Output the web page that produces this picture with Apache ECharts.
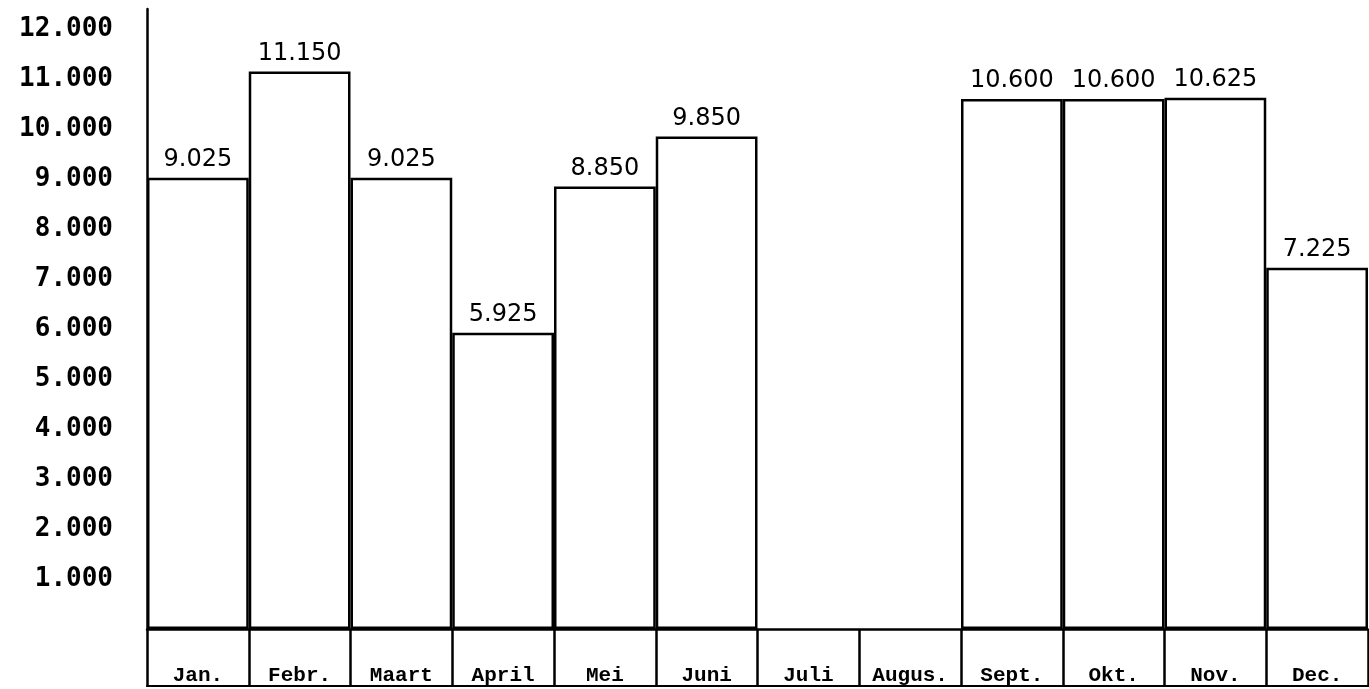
<!DOCTYPE html>
<html lang="nl">

<head>
    <meta charset="UTF-8">
    <title>Maandcijfers</title>
    <script src="https://cdn.jsdelivr.net/npm/echarts@6/dist/echarts.min.js"></script>
    <style>
        html, body {
            margin: 0;
            padding: 0;
            background-color: #fff;
        }

        #chart {
            width: 1369px;
            height: 689px;
        }
    </style>
</head>

<body>
    <div id="chart"></div>
    <script>
        // maanden en waarden zoals op de kaart
        var maanden = ['Jan.', 'Febr.', 'Maart', 'April', 'Mei', 'Juni', 'Juli', 'Augus.', 'Sept.', 'Okt.', 'Nov.', 'Dec.'];
        var waarden = [9025, 11150, 9025, 5925, 8850, 9850, null, null, 10600, 10600, 10625, 7225];
        var yTicks = [1000, 2000, 3000, 4000, 5000, 6000, 7000, 8000, 9000, 10000, 11000, 12000];

        // 9025 -> "9.025"
        function punt(v) {
            return (v / 1000).toFixed(3);
        }

        const chart = echarts.init(document.getElementById('chart'));

        chart.setOption({
            backgroundColor: '#fff',
            animation: false,
            grid: {
                left: 147,
                right: 1,
                top: 9,
                bottom: 60
            },
            xAxis: [
                {
                    type: 'category',
                    data: maanden,
                    axisLine: { lineStyle: { color: '#000', width: 2.5 } },
                    axisTick: {
                        show: true,
                        interval: 0,
                        length: 58,
                        lineStyle: { color: '#000', width: 2.5 }
                    },
                    axisLabel: {
                        interval: 0,
                        margin: 36,
                        color: '#000',
                        fontFamily: 'Liberation Mono',
                        fontWeight: 'bold',
                        fontSize: 21
                    }
                },
                {
                    // onderste lijn van de maandvakken
                    type: 'category',
                    data: maanden,
                    position: 'bottom',
                    offset: 57,
                    axisLine: { lineStyle: { color: '#000', width: 2 } },
                    axisTick: { show: false },
                    axisLabel: { show: false }
                }
            ],
            yAxis: {
                type: 'value',
                min: 0,
                max: 12400,
                interval: 1000,
                splitLine: { show: false },
                axisTick: { show: false },
                axisLine: { show: true, lineStyle: { color: '#000', width: 2.5 } },
                axisLabel: {
                    showMinLabel: false,
                    showMaxLabel: false,
                    margin: 34,
                    color: '#000',
                    fontFamily: 'DejaVu Sans Mono',
                    fontWeight: 'bold',
                    fontSize: 26,
                    formatter: function (v) {
                        return yTicks.indexOf(v) >= 0 ? punt(v) : '';
                    }
                }
            },
            series: [{
                type: 'bar',
                data: waarden,
                barCategoryGap: 0,
                itemStyle: {
                    color: '#fff',
                    borderColor: '#000',
                    borderWidth: 2.5
                },
                label: {
                    show: true,
                    position: 'top',
                    distance: 6,
                    color: '#000',
                    fontFamily: 'DejaVu Sans',
                    fontSize: 24,
                    formatter: function (p) {
                        return p.value == null ? '' : punt(p.value);
                    }
                }
            }]
        });
    </script>
</body>

</html>
